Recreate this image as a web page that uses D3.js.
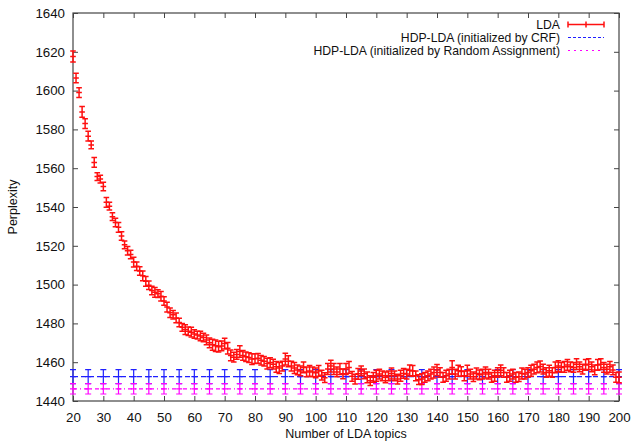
<!DOCTYPE html>
<html>
<head>
<meta charset="utf-8">
<script src="https://cdn.jsdelivr.net/npm/d3@7"></script>
<style>
  html, body { margin: 0; padding: 0; background: #fff; }
  svg text { font-family: "Liberation Sans", Helvetica, Arial, sans-serif; fill: #111; }
</style>
</head>
<body>
<svg id="chart" width="632" height="442"></svg>
<script>
// Number of LDA topics (one measurement per integer topic count)
const topics = d3.range(20, 201);

// LDA perplexity (mean) for topics 20..200
const ldaMean = [
  1617.6, 1606.5, 1599.0, 1589.0, 1583.0, 1576.5, 1572.0, 1563.0, 1555.7, 1554.4,
  1550.6, 1542.4, 1540.4, 1535.0, 1532.0, 1529.5, 1525.0, 1520.5, 1517.5, 1515.5,
  1511.6, 1509.5, 1507.0, 1504.5, 1501.7, 1499.7, 1497.0, 1496.0, 1495.3, 1494.0,
  1491.5, 1488.4, 1485.5, 1484.5, 1482.8, 1480.5, 1478.0, 1476.8, 1476.0, 1475.5,
  1474.5, 1474.0, 1473.5, 1472.7, 1471.5, 1470.0, 1469.0, 1468.5, 1468.0, 1468.4,
  1469.6, 1467.2, 1463.5, 1462.6, 1464.0, 1465.5, 1463.5, 1462.8, 1462.4, 1461.6,
  1461.8, 1462.0, 1461.0, 1460.5, 1459.3, 1459.8, 1459.0, 1457.6, 1457.0, 1458.0,
  1461.6, 1460.5, 1458.0, 1457.0, 1456.0, 1455.5, 1457.3, 1455.0, 1455.5, 1455.0,
  1454.5, 1455.5, 1453.3, 1452.0, 1456.5, 1458.0, 1456.5, 1455.0, 1456.5, 1454.0,
  1456.5, 1457.3, 1452.7, 1451.3, 1454.0, 1455.5, 1454.0, 1452.2, 1450.5, 1452.2,
  1453.0, 1453.9, 1453.0, 1452.2, 1453.0, 1454.2, 1453.0, 1451.3, 1453.0, 1454.2,
  1453.9, 1455.8, 1455.5, 1453.0, 1451.0, 1451.3, 1452.2, 1453.0, 1453.9, 1454.7,
  1456.0, 1454.7, 1452.2, 1453.0, 1453.9, 1457.3, 1453.9, 1455.6, 1455.2, 1453.0,
  1455.6, 1453.9, 1452.5, 1454.2, 1453.5, 1453.9, 1454.7, 1453.9, 1452.2, 1453.0,
  1454.7, 1455.8, 1454.7, 1452.2, 1453.0, 1453.9, 1452.2, 1452.5, 1454.2, 1453.9,
  1454.7, 1455.6, 1456.4, 1457.3, 1457.8, 1456.4, 1454.7, 1455.6, 1454.7, 1457.3,
  1458.0, 1457.3, 1457.6, 1458.6, 1457.6, 1457.3, 1459.0, 1457.6, 1456.4, 1458.6,
  1459.0, 1457.6, 1456.0, 1458.6, 1459.0, 1457.3, 1456.4, 1457.6, 1456.0, 1452.2,
  1452.2
];

// LDA error half-widths for topics 20..200
const ldaErr = [
  2.8, 2.5, 2.5, 2.8, 2.5, 2.5, 2.0, 2.5, 2.0, 2.0,
  2.2, 2.5, 2.0, 2.0, 2.2, 2.5, 2.2, 2.0, 2.2, 2.2,
  2.5, 2.2, 2.2, 2.5, 2.5, 2.2, 2.2, 2.5, 2.0, 2.5,
  2.2, 2.5, 2.5, 2.2, 2.5, 2.2, 2.0, 2.5, 2.2, 2.5,
  2.2, 2.0, 2.5, 2.2, 2.5, 2.5, 2.8, 3.0, 2.8, 2.5,
  2.8, 3.0, 2.8, 2.5, 2.5, 3.0, 2.5, 2.5, 2.5, 2.8,
  2.5, 2.5, 2.5, 2.5, 2.8, 2.5, 2.5, 2.8, 2.8, 2.5,
  3.0, 2.8, 2.5, 2.8, 2.5, 2.5, 2.8, 2.5, 2.8, 2.5,
  2.5, 2.8, 2.5, 2.5, 2.8, 3.0, 2.8, 2.5, 2.8, 2.5,
  2.8, 3.0, 2.5, 2.5, 2.8, 2.5, 2.5, 2.8, 2.5, 2.5,
  2.8, 2.5, 2.5, 2.8, 2.5, 2.8, 2.5, 2.5, 2.8, 2.5,
  2.5, 2.8, 2.8, 2.5, 2.5, 2.8, 2.5, 2.5, 2.5, 2.8,
  2.8, 2.5, 2.5, 2.8, 2.5, 3.5, 2.5, 2.8, 2.5, 2.5,
  2.8, 2.5, 2.5, 2.8, 2.5, 2.5, 2.8, 2.5, 2.5, 2.8,
  2.5, 2.8, 2.5, 2.5, 2.8, 2.5, 2.5, 2.5, 2.8, 2.5,
  2.5, 2.8, 2.5, 2.8, 2.8, 2.5, 2.5, 2.8, 2.5, 2.8,
  2.8, 2.5, 2.8, 2.8, 2.5, 2.5, 2.8, 2.5, 2.5, 2.8,
  2.8, 2.5, 2.5, 2.8, 2.8, 2.5, 2.5, 2.8, 2.5, 2.5,
  2.8
];

// HDP-LDA results are independent of the LDA topic count; bars every 5 topics
const hdpTopics = d3.range(20, 201, 5);
const crfMean = 1452.6, crfErr = 3.6;
const randMean = 1446.3, randErr = 2.7;

const xTicks = d3.range(20, 201, 10);
const yTicks = d3.range(1440, 1641, 20);

const legendLabels = [
  "LDA",
  "HDP-LDA (initialized by CRF)",
  "HDP-LDA (initialized by Random Assignment)"
];

const W = 632, H = 442;
const margin = { left: 73, right: 13, top: 13, bottom: 41 };

const svg = d3.select("#chart");
const x = d3.scaleLinear().domain([20, 200]).range([margin.left, W - margin.right]);
const y = d3.scaleLinear().domain([1440, 1640]).range([H - margin.bottom, margin.top]);

const frameColor = "#444";
const tickLen = 5;

// Axes: labels bottom/left, mirrored inward ticks on all sides
const axB = svg.append("g").attr("transform", `translate(0,${y(1440)})`)
  .call(d3.axisBottom(x).tickValues(xTicks).tickSize(-tickLen).tickPadding(12).tickFormat(d3.format("d")));
const axT = svg.append("g").attr("transform", `translate(0,${y(1640)})`)
  .call(d3.axisTop(x).tickValues(xTicks).tickSize(-tickLen).tickFormat(""));
const axL = svg.append("g").attr("transform", `translate(${x(20)},0)`)
  .call(d3.axisLeft(y).tickValues(yTicks).tickSize(-tickLen).tickPadding(8).tickFormat(d3.format("d")));
const axR = svg.append("g").attr("transform", `translate(${x(200)},0)`)
  .call(d3.axisRight(y).tickValues(yTicks).tickSize(-tickLen).tickFormat(""));

[axB, axT, axL, axR].forEach(g => {
  g.select(".domain").remove();
  g.selectAll(".tick line").attr("stroke", frameColor).attr("stroke-width", 1);
  g.selectAll("text").attr("font-size", 13.3).attr("fill", "#111");
});

// plot frame
svg.append("rect")
  .attr("x", x(20)).attr("y", y(1640))
  .attr("width", x(200) - x(20)).attr("height", y(1440) - y(1640))
  .attr("fill", "none").attr("stroke", frameColor).attr("stroke-width", 1.2);

// axis titles
svg.append("text")
  .attr("x", (x(20) + x(200)) / 2).attr("y", 438)
  .attr("text-anchor", "middle").attr("font-size", 12.5)
  .text("Number of LDA topics");
svg.append("text")
  .attr("transform", `translate(17,${(y(1440) + y(1640)) / 2}) rotate(-90)`)
  .attr("text-anchor", "middle").attr("font-size", 12.5)
  .text("Perplexity");

// draws one error bar with caps and a "+" point marker
function errorBar(g, cx, mean, err, color, width, capHalf) {
  const y0 = y(mean - err), y1 = y(mean + err), ym = y(mean);
  const p = d3.path();
  p.moveTo(cx, y0); p.lineTo(cx, y1);
  p.moveTo(cx - capHalf, y0); p.lineTo(cx + capHalf, y0);
  p.moveTo(cx - capHalf, y1); p.lineTo(cx + capHalf, y1);
  p.moveTo(cx - capHalf, ym); p.lineTo(cx + capHalf, ym);
  g.append("path").attr("d", p.toString())
    .attr("stroke", color).attr("stroke-width", width).attr("fill", "none");
}

const plot = svg.append("g");

// HDP-LDA (CRF init): blue dashed level with bars
plot.append("line")
  .attr("x1", x(20)).attr("x2", x(200))
  .attr("y1", y(crfMean)).attr("y2", y(crfMean))
  .attr("stroke", "#2020ff").attr("stroke-width", 1.2).attr("stroke-dasharray", "5,3");
hdpTopics.forEach(t => errorBar(plot, x(t), crfMean, crfErr, "#2020ff", 1.2, 3));

// HDP-LDA (random init): magenta dash-dot level with bars
plot.append("line")
  .attr("x1", x(20)).attr("x2", x(200))
  .attr("y1", y(randMean)).attr("y2", y(randMean))
  .attr("stroke", "#ff00ff").attr("stroke-width", 1.2).attr("stroke-dasharray", "4,3,1,3");
hdpTopics.forEach(t => errorBar(plot, x(t), randMean, randErr, "#ff00ff", 1.2, 3));

// LDA series
topics.forEach((t, i) => errorBar(plot, x(t), ldaMean[i], ldaErr[i], "#ff1010", 1.5, 2.8));

// legend
const legend = svg.append("g");
const lgTextX = 560, lgX0 = 568, lgX1 = 604;
const lgY = [24.5, 37.5, 50.5];
legendLabels.forEach((lab, i) => {
  legend.append("text")
    .attr("x", lgTextX).attr("y", lgY[i]).attr("dy", "0.35em")
    .attr("text-anchor", "end").attr("font-size", 12.2)
    .text(lab);
});
{
  const p = d3.path(), yy = lgY[0], c = 3;
  p.moveTo(lgX0, yy); p.lineTo(lgX1, yy);
  p.moveTo(lgX0, yy - c); p.lineTo(lgX0, yy + c);
  p.moveTo(lgX1, yy - c); p.lineTo(lgX1, yy + c);
  p.moveTo((lgX0 + lgX1) / 2, yy - c); p.lineTo((lgX0 + lgX1) / 2, yy + c);
  legend.append("path").attr("d", p.toString())
    .attr("stroke", "#ff1010").attr("stroke-width", 1.5).attr("fill", "none");
}
legend.append("line")
  .attr("x1", lgX0).attr("x2", lgX1).attr("y1", lgY[1]).attr("y2", lgY[1])
  .attr("stroke", "#2020ff").attr("stroke-width", 1.2).attr("stroke-dasharray", "3,2");
legend.append("line")
  .attr("x1", lgX0).attr("x2", lgX1).attr("y1", lgY[2]).attr("y2", lgY[2])
  .attr("stroke", "#ff00ff").attr("stroke-width", 1.2).attr("stroke-dasharray", "2,4");
</script>
</body>
</html>
